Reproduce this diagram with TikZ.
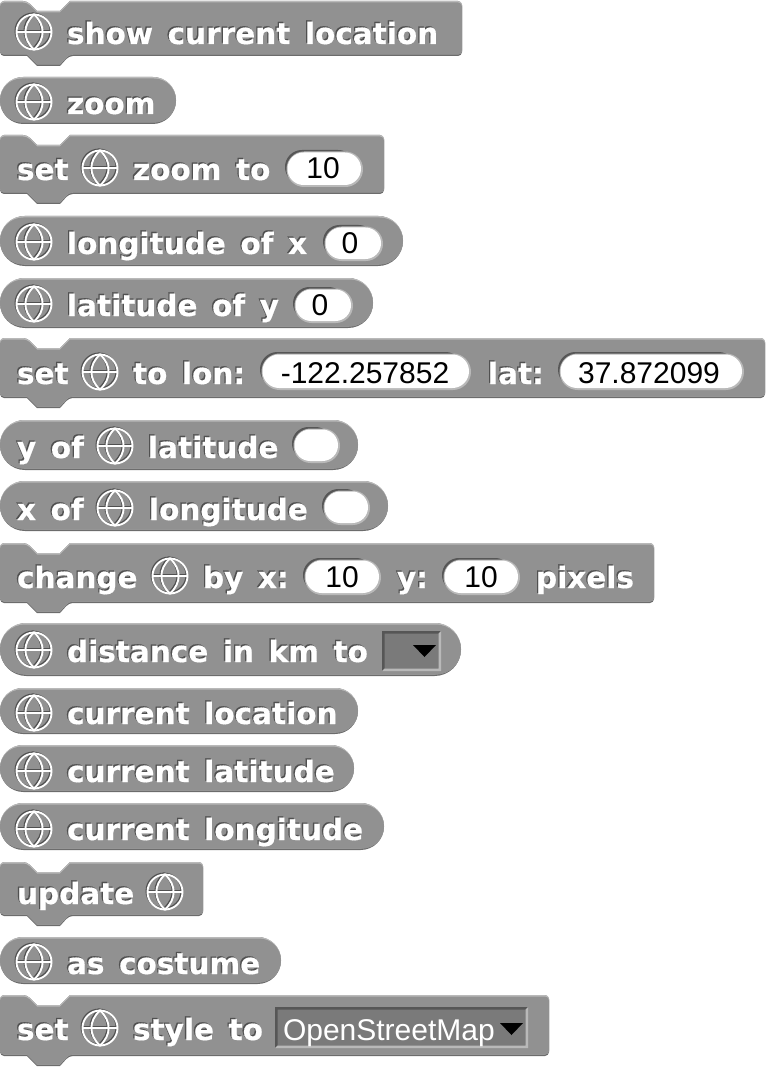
\documentclass[tikz,border=0pt]{standalone}
\usepackage{fontspec}
\setmainfont[BoldFeatures={WordSpace=1.42,FakeBold=0.5}]{DejaVu Sans}
\newfontfamily\slotfont{Liberation Sans}
\definecolor{bbase}{HTML}{919191}
\definecolor{blight}{HTML}{B9B9B9}
\definecolor{bdark}{HTML}{6C6C6C}
\definecolor{bshadow}{HTML}{505050}
\definecolor{ddfill}{HTML}{7A7A7A}
\newcommand\shad[1]{\leavevmode\rlap{\kern-1.3pt\raisebox{1.3pt}{\textcolor{bshadow}{#1}}}#1}
\newcommand\cmdpath[3]{[rounded corners=4pt] (0,{#1+8}) -- (0,{#1}) -- (27,{#1}) [sharp corners] -- (37,{#1+10}) -- (60,{#1+10}) -- (70,{#1}) [rounded corners=4pt] -- (#3,{#1}) -- (#3,{#2}) -- (69,{#2}) [sharp corners] -- (60,{#2+10}) -- (37,{#2+10}) -- (27,{#2}) [rounded corners=4pt] -- (0,{#2}) -- cycle}
\newcommand\reppath[3]{[rounded corners={((#2)-(#1))/2*1pt-0.1pt}] (0,{#1}) rectangle (#3,{#2})}
\newcommand\cmdblk[3]{%
 \fill[bdark] \cmdpath{#1}{#2}{#3};
 \fill[blight] \cmdpath{#1}{#2-1.5}{#3};
 \fill[bbase] \cmdpath{#1+1.5}{#2-1.5}{#3};}
\newcommand\repblk[3]{%
 \fill[bdark] \reppath{#1}{#2}{#3};
 \fill[blight] \reppath{#1}{#2-1.5}{#3};
 \fill[bbase] \reppath{#1+1.5}{#2-1.5}{#3};}
\newcommand\globeshape{%
  \draw (0,0) circle[radius=17.5pt];
  \draw (0,-17.5) .. controls (-11.5,-7) and (-11.5,7) .. (0,17.5) .. controls (11.5,7) and (11.5,-7) .. (0,-17.5) -- cycle;
  \draw (-17.5,0) -- (17.5,0);}
\newcommand\globe[2]{%
 \begin{scope}[shift={(#1-1,#2-1)},bshadow,line width=1.9pt]\globeshape\end{scope}
 \begin{scope}[shift={(#1,#2)},white,line width=1.9pt]\globeshape\end{scope}}
\newcommand\pillp[4]{[rounded corners={((#4)-(#2))/2*1pt-0.1pt}] ({#1},{#2}) rectangle ({#3},{#4})}
\newcommand\slotshape[4]{%
 \fill[bdark!80!black] \pillp{#1}{#2}{#3-8}{#4-3};
 \fill[blight] \pillp{#1+1.5}{#2+1.5}{#3}{#4};
 \fill[white] \pillp{#1+2.5}{#2+2.5}{#3-2}{#4-2};}
\newcommand\ddshape[4]{%
 \fill[ddfill] (#1,#2) rectangle (#3,#4);
 \fill[bdark!80!black] (#1,#2) -- (#3,#2) -- ({#3-2.5},{#2+2.5}) -- ({#1+2.5},{#2+2.5}) -- ({#1+2.5},{#4-2.5}) -- (#1,#4) -- cycle;
 \fill[blight] (#3,#4) -- (#1,#4) -- ({#1+2.5},{#4-2.5}) -- ({#3-2.5},{#4-2.5}) -- ({#3-2.5},{#2+2.5}) -- (#3,#2) -- cycle;}
\tikzset{
 x=1pt,y=-1pt,
 blocktext/.style={anchor=base west,inner sep=0pt,outer sep=0pt,text=white,font=\fontsize{29.5}{30}\selectfont\bfseries},
 slottext/.style={anchor=base,inner sep=0pt,outer sep=0pt,text=black,font=\fontsize{30}{30}\selectfont\slotfont},
 ddtext/.style={anchor=base west,inner sep=0pt,outer sep=0pt,text=white,font=\fontsize{30}{30}\selectfont\slotfont},
 ddtri/.style={fill=black,draw=none}
}
\begin{document}
\begin{tikzpicture}
\useasboundingbox (0,0) rectangle (766,1067);
% 1
\cmdblk{1}{56}{462}\globe{34}{32}
\node[blocktext] (t1) at (67,44) {\shad{show current location}};
% 2
\repblk{77}{124}{176}\globe{34}{102}
\node[blocktext] (t2) at (67,114) {\shad{zoom}};
% 3
\cmdblk{135}{194}{384}\globe{100}{168}
\node[blocktext] (t3a) at (17,180) {\shad{set}};
\node[blocktext] (t3b) at (133,180) {\shad{zoom to}};
\slotshape{285}{150}{363}{187}
\node[slottext] (s3) at (323,179) {10};
% 4
\repblk{216}{266}{403}\globe{34}{242}
\node[blocktext] (t4) at (67,254) {\shad{longitude of x}};
\slotshape{323}{225}{383}{261}
\node[slottext] (s4) at (350,253) {0};
% 5
\repblk{278}{328}{373}\globe{34}{304}
\node[blocktext] (t5) at (67,316) {\shad{latitude of y}};
\slotshape{293}{287}{353}{323}
\node[slottext] (s5) at (320,315) {0};
% 6
\cmdblk{338}{398}{765}\globe{100}{372}
\node[blocktext] (t6a) at (17,384) {\shad{set}};
\node[blocktext] (t6b) at (133,384) {\shad{to lon:}};
\node[blocktext] (t6c) at (488,384) {\shad{lat:}};
\slotshape{260}{352}{471}{390}
\slotshape{558}{352}{744}{390}
\node[slottext] (s6a) at (365,383) {-122.257852};
\node[slottext] (s6b) at (649,383) {37.872099};
% 7
\repblk{420}{470}{358}\globe{115}{446}
\node[blocktext] (t7a) at (17,458) {\shad{y of}};
\node[blocktext] (t7b) at (148,458) {\shad{latitude}};
\slotshape{292}{427}{340}{463}
% 8
\repblk{481}{531}{388}\globe{115}{508}
\node[blocktext] (t8a) at (17,520) {\shad{x of}};
\node[blocktext] (t8b) at (149,520) {\shad{longitude}};
\slotshape{322}{489}{370}{525}
% 9
\cmdblk{543}{603}{654}\globe{170}{576}
\node[blocktext] (t9a) at (17,588) {\shad{change}};
\node[blocktext] (t9b) at (203,588) {\shad{by x:}};
\node[blocktext] (t9c) at (397,588) {\shad{y:}};
\node[blocktext] (t9d) at (536,588) {\shad{pixels}};
\slotshape{303}{558}{381}{595}
\slotshape{442}{558}{520}{595}
\node[slottext] (s9a) at (342,587) {10};
\node[slottext] (s9b) at (481,587) {10};
% 10
\repblk{623}{676}{461}\globe{34}{650}
\node[blocktext] (t10) at (67,662) {\shad{distance in km to}};
\ddshape{382}{631}{441}{671}
\fill[ddtri] (413,645) -- (436,645) -- (424.5,657) -- cycle;
% 11
\repblk{688}{734}{358}\globe{34}{713}
\node[blocktext] (t11) at (67,724) {\shad{current location}};
% 12
\repblk{745}{792}{354}\globe{34}{771}
\node[blocktext] (t12) at (67,782) {\shad{current latitude}};
% 13
\repblk{803}{850}{384}\globe{34}{829}
\node[blocktext] (t13) at (67,840) {\shad{current longitude}};
% 14
\cmdblk{862}{916}{203}\globe{165}{892}
\node[blocktext] (t14) at (17,904) {\shad{update}};
% 15
\repblk{937}{984}{281}\globe{34}{962}
\node[blocktext] (t15) at (67,974) {\shad{as costume}};
% 16
\cmdblk{995}{1056}{549}\globe{100}{1028}
\node[blocktext] (t16a) at (17,1040) {\shad{set}};
\node[blocktext] (t16b) at (133,1040) {\shad{style to}};
\ddshape{275}{1007}{528}{1048}
\node[ddtext] (s16) at (283,1040) {OpenStreetMap};
\fill[ddtri] (500,1023) -- (523,1023) -- (511.5,1035) -- cycle;
\end{tikzpicture}
\end{document}
